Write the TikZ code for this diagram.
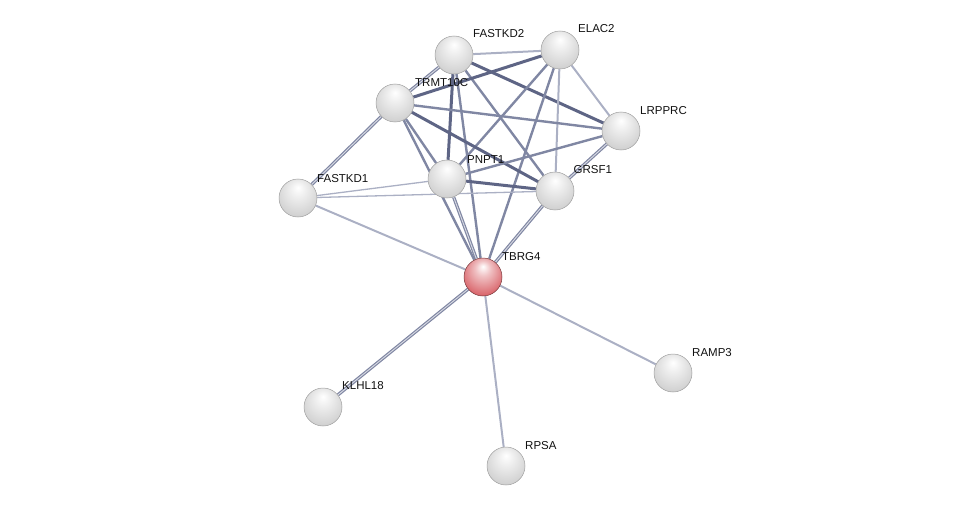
\documentclass[tikz,border=0pt]{standalone}
\usepackage{fontspec}
\setmainfont{Liberation Sans}
\usetikzlibrary{positioning,backgrounds}
\definecolor{SGEdgeDark}{HTML}{5E6585}
\definecolor{SGEdge}{HTML}{8087A3}
\definecolor{SGEdgeLight}{HTML}{ABB0C4}
\definecolor{SGBall}{HTML}{D0D0D0}
\definecolor{SGQuery}{HTML}{D9646A}
\definecolor{SGInk}{HTML}{111111}
\pgfdeclareradialshading{sgsphere}{\pgfpoint{0bp}{14bp}}{%
  color(0bp)=(white); color(10bp)=(SGBall!35!white); color(30bp)=(SGBall);
  color(40bp)=(SGBall!90!black); color(47bp)=(SGBall!70!black);
  color(50bp)=(SGBall!50!black)}
\pgfdeclareradialshading{sgredsphere}{\pgfpoint{0bp}{14bp}}{%
  color(0bp)=(white); color(10bp)=(SGQuery!40!white); color(30bp)=(SGQuery);
  color(40bp)=(SGQuery!90!black); color(47bp)=(SGQuery!72!black);
  color(50bp)=(SGQuery!55!black)}
\tikzset{
  sgball/.style={circle, minimum size=38pt, inner sep=0pt, shading=sgsphere,
    draw=gray!75, line width=0.5pt},
  sgquery/.style={sgball, shading=sgredsphere, draw=SGQuery!55!black},
  sglabel/.style={anchor=base west, inner sep=0pt, text=SGInk,
    font=\fontsize{11.5}{13}\selectfont},
  sgstrong/.style={line width=3pt, draw=SGEdgeDark},
  sgedge/.style={line width=2.4pt, draw=SGEdge},
  sgweak/.style={line width=2pt, draw=SGEdgeLight},
  sgthin/.style={line width=1.3pt, draw=SGEdgeLight},
  sgdouble/.style={line width=1.2pt, draw=SGEdge,
    double=SGEdgeLight!45!white, double distance=0.9pt}
}

\begin{document}
\begin{tikzpicture}[x=1pt, y=-1pt]
  \useasboundingbox (0,0) rectangle (975,511);

  \node[sgball] (FASTKD2) at (454,55) {};
  \node[sgball] (ELAC2) at (560,50) {};
  \node[sgball] (TRMT10C) at (395,103) {};
  \node[sgball] (LRPPRC) at (621,131) {};
  \node[sgball] (PNPT1) at (447,179) {};
  \node[sgball] (GRSF1) at (555,191) {};
  \node[sgball] (FASTKD1) at (298,198) {};
  \node[sgquery] (TBRG4) at (483,277) {};
  \node[sgball] (RAMP3) at (673,373) {};
  \node[sgball] (KLHL18) at (323,407) {};
  \node[sgball] (RPSA) at (506,466) {};

  \node[sglabel] (lFASTKD2) at (473,38) {FASTKD2};
  \node[sglabel] (lELAC2) at (578,32.5) {ELAC2};
  \node[sglabel] (lTRMT10C) at (415,86) {TRMT10C};
  \node[sglabel] (lLRPPRC) at (640,114) {LRPPRC};
  \node[sglabel] (lPNPT1) at (467,163) {PNPT1};
  \node[sglabel] (lGRSF1) at (573.5,173.5) {GRSF1};
  \node[sglabel] (lFASTKD1) at (317,182) {FASTKD1};
  \node[sglabel] (lTBRG4) at (502,260.5) {TBRG4};
  \node[sglabel] (lRAMP3) at (692,356) {RAMP3};
  \node[sglabel] (lKLHL18) at (342,389.5) {KLHL18};
  \node[sglabel] (lRPSA) at (525,449) {RPSA};

  \begin{scope}[on background layer]
    % upper cluster
    \draw[sgweak] (FASTKD2)--(ELAC2);
    \draw[sgdouble] (FASTKD2)--(TRMT10C);
    \draw[sgstrong] (FASTKD2)--(LRPPRC);
    \draw[sgedge] (FASTKD2)--(GRSF1);
    \draw[sgstrong] (FASTKD2)--(PNPT1);
    \draw[sgedge] (FASTKD2)--(TBRG4);
    \draw[sgstrong] (ELAC2)--(TRMT10C);
    \draw[sgedge] (ELAC2)--(PNPT1);
    \draw[sgweak] (ELAC2)--(GRSF1);
    \draw[sgweak] (ELAC2)--(LRPPRC);
    \draw[sgedge] (ELAC2)--(TBRG4);
    \draw[sgedge] (TRMT10C)--(LRPPRC);
    \draw[sgstrong] (TRMT10C)--(GRSF1);
    \draw[sgedge] (TRMT10C)--(PNPT1);
    \draw[sgedge] (TRMT10C)--(TBRG4);
    \draw[sgdouble] (TRMT10C)--(FASTKD1);
    \draw[sgedge] (PNPT1)--(LRPPRC);
    \draw[sgstrong] (PNPT1)--(GRSF1);
    \draw[sgthin] (PNPT1)--(FASTKD1);
    \draw[sgdouble] (PNPT1)--(TBRG4);
    \draw[sgthin] (GRSF1)--(FASTKD1);
    \draw[sgdouble] (GRSF1)--(LRPPRC);
    \draw[sgdouble] (GRSF1)--(TBRG4);
    % spokes of the query protein
    \draw[sgweak] (FASTKD1)--(TBRG4);
    \draw[sgdouble] (TBRG4)--(KLHL18);
    \draw[sgweak] (TBRG4)--(RPSA);
    \draw[sgweak] (TBRG4)--(RAMP3);
  \end{scope}
\end{tikzpicture}
\end{document}
